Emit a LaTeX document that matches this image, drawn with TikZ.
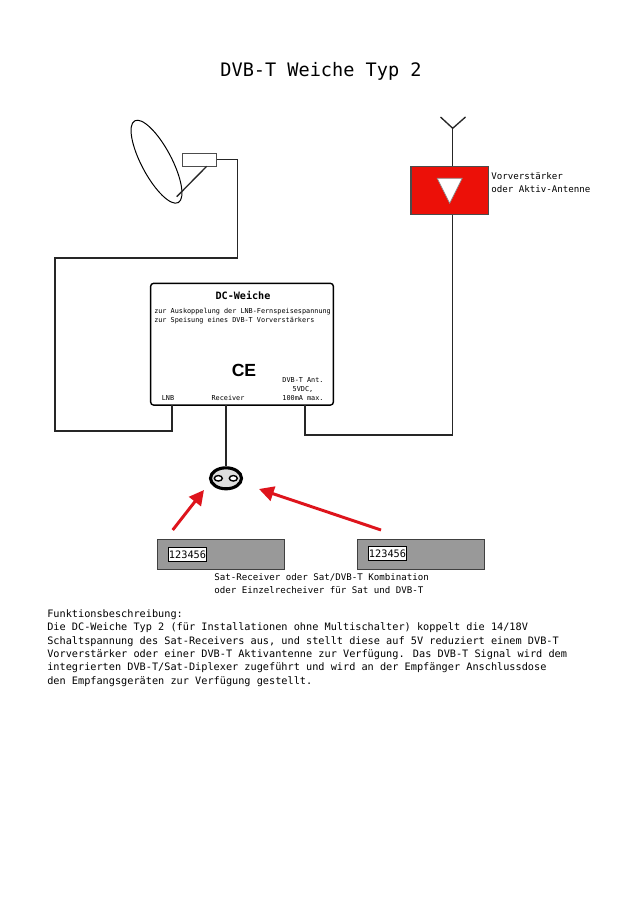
\documentclass[tikz,border=0pt]{standalone}
\usepackage{fontspec}
\setmainfont{DejaVu Sans Mono}
\newfontfamily\cefont{Liberation Sans}
\usetikzlibrary{shapes.geometric,arrows.meta}
\definecolor{boxred}{RGB}{236,16,8}
\definecolor{arrowred}{RGB}{222,20,28}
\definecolor{devgray}{RGB}{153,153,153}
\definecolor{socketgray}{RGB}{222,222,222}
\tikzset{
  cable/.style={draw=black!85, line width=.95pt},
  txtbody/.style={inner sep=0pt, anchor=north west, align=left, font=\fontsize{7.28}{9.46}\selectfont},
  txtlabel/.style={inner sep=0pt, anchor=north west, align=left, font=\fontsize{6.5}{9.25}\selectfont},
  txtsmall/.style={inner sep=0pt, align=center, font=\fontsize{4.85}{6.4}\selectfont},
  device/.style={draw=black!75, fill=devgray, line width=.9pt, inner sep=0pt, minimum width=126.6*.025cm, minimum height=30.4*.025cm},
  display/.style={draw=black, fill=white, line width=.7pt, inner sep=0pt, minimum width=38.4*.025cm, minimum height=14*.025cm, font=\fontsize{7.3}{8}\selectfont},
  hole/.style={ellipse, draw=black, fill=white, line width=1pt, inner sep=0pt, minimum width=8*.025cm, minimum height=5.5*.025cm},
  redarrow/.style={draw=arrowred, line width=2.1pt, -{Triangle[length=10.5pt, width=10.5pt]}},
}
\begin{document}
\begin{tikzpicture}[x=.025cm, y=-.025cm]
\useasboundingbox (0,0) rectangle (640,905);
\node[inner sep=0pt, font=\fontsize{13.2}{15}\selectfont] (title) at (321,71.5) {DVB-T Weiche Typ 2};
% Schuessel
\node[ellipse, draw, line width=.7pt, inner sep=0pt, minimum width=92.6*.025cm, minimum height=30*.025cm, rotate=-62] (dish) at (156.5,161.7) {};
\node[draw=black!70, line width=.8pt, fill=white, inner sep=0pt, minimum width=34.4*.025cm, minimum height=13*.025cm] (lnb) at (199.5,159.8) {};
\coordinate (armtop) at (206.7,166.3);
\coordinate (armend) at (176.7,196.7);
\draw[cable] (armtop) -- (armend);
% Antenne
\node[draw=black!70, fill=boxred, line width=.8pt, inner sep=0pt, minimum width=77.3*.025cm, minimum height=47.6*.025cm] (amp) at (449.7,190.5) {};
\node[isosceles triangle, isosceles triangle apex angle=53, shape border rotate=-90, draw=black!45, fill=white, line width=.5pt, inner sep=0pt, minimum height=25*.025cm] (ampsym) at (449.7,186) {};
\coordinate (mast) at (452.7,128.3);
\coordinate (armleft) at (440.5,117);
\coordinate (armright) at (465.5,117);
\draw[cable] (armleft) -- (mast) -- (armright);
\draw[cable] (mast) -- (mast |- amp.north);
\node[txtlabel] (amplabel) at (491,172.5) {Vorverstärker\\oder Aktiv-Antenne};
% DC-Weiche
\node[draw=black, fill=white, rounded corners=2pt, line width=1pt, inner sep=0pt, minimum width=182.6*.025cm, minimum height=121.7*.025cm] (dcbox) at (242,344.2) {};
\node[inner sep=0pt, font=\fontsize{7.2}{8}\selectfont\bfseries] (dctitle) at (243,295) {DC-Weiche};
\node[txtsmall, anchor=north west, align=left] (dctext) at (154,308) {zur Auskoppelung der LNB-Fernspeisespannung\\zur Speisung eines DVB-T Vorverstärkers};
\node[inner sep=0pt, font=\fontsize{12.5}{13}\selectfont\cefont\bfseries] (ce) at (244,370) {CE};
\node[txtsmall] (lnblabel) at (168,398) {LNB};
\node[txtsmall] (reclabel) at (228,398) {Receiver};
\node[txtsmall, anchor=south] (antlabel) at (303,401) {DVB-T Ant.\\5VDC,\\100mA max.};
% Kabel
\coordinate (k1) at (237.7,258);
\coordinate (k2) at (55,258);
\coordinate (k3) at (55,431);
\coordinate (lnbport) at (172,405);
\coordinate (antport) at (305,405);
\coordinate (k4) at (305,435);
\coordinate (k5) at (452.7,435);
\coordinate (recport) at (226,405);
\draw[cable] (lnb.east) -| (k1) -- (k2) -- (k3) -| (lnbport);
\draw[cable] (antport) -- (k4) -- (k5) -- (k5 |- amp.south);
% Dose
\node[ellipse, draw=black, fill=socketgray, line width=2.2pt, inner sep=0pt, minimum width=31*.025cm, minimum height=21*.025cm] (socket) at (226,478.3) {};
\draw[cable] (recport) -- (socket.north);
\node[hole] (holea) at (218.3,478.3) {};
\node[hole] (holeb) at (233.3,478.3) {};
% Receiver
\node[device] (rxa) at (221,554.6) {};
\node[device] (rxb) at (421,554.4) {};
\node[display] (dispa) at (187.5,554.7) {123456};
\node[display] (dispb) at (387.5,553.9) {123456};
\coordinate (starta) at (172.7,530);
\coordinate (startb) at (381,530);
\coordinate (enda) at (204,490);
\coordinate (endb) at (259,489);
\draw[redarrow] (starta) -- (enda);
\draw[redarrow] (startb) -- (endb);
\node[txtlabel] (rxlabel) at (214,573.5) {Sat-Receiver oder Sat/DVB-T Kombination\\oder Einzelrecheiver für Sat und DVB-T};
% Text
\node[txtbody] (desc) at (47,609.5) {Funktionsbeschreibung:\\Die DC-Weiche Typ 2 (für Installationen ohne Multischalter) koppelt die 14/18V\\Schaltspannung des Sat-Receivers aus, und stellt diese auf 5V reduziert einem DVB-T\\Vorverstärker oder einer DVB-T Aktivantenne zur Verfügung. Das DVB-T Signal wird dem\\integrierten DVB-T/Sat-Diplexer zugeführt und wird an der Empfänger Anschlussdose\\den Empfangsgeräten zur Verfügung gestellt.};
\end{tikzpicture}
\end{document}
